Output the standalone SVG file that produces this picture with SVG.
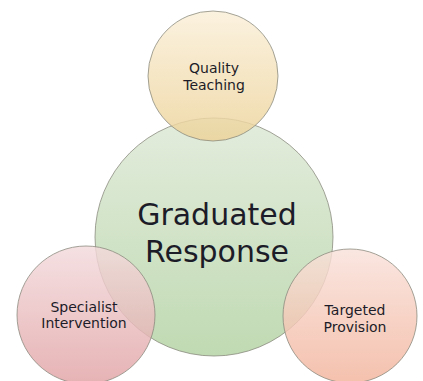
<svg xmlns="http://www.w3.org/2000/svg" width="423" height="381" viewBox="0 0 423 381">
<defs>
<linearGradient id="gGreen" x1="0" y1="0" x2="0" y2="1"><stop offset="0" stop-color="#dde8d5"/><stop offset="1" stop-color="#b2d2a2"/></linearGradient>
<linearGradient id="gTop" x1="0" y1="0" x2="0" y2="1"><stop offset="0" stop-color="#faefd8"/><stop offset="1" stop-color="#ecd298"/></linearGradient>
<linearGradient id="gLeft" x1="0" y1="0" x2="0" y2="1"><stop offset="0" stop-color="#f3dadc"/><stop offset="1" stop-color="#e1a2a4"/></linearGradient>
<linearGradient id="gRight" x1="0" y1="0" x2="0" y2="1"><stop offset="0" stop-color="#f9e1da"/><stop offset="1" stop-color="#f2b39b"/></linearGradient>
</defs>
<style>
.c{stroke:#85857a;stroke-width:1;stroke-opacity:0.75;fill-opacity:0.82}
.t{font-family:"DejaVu Sans","Noto Sans",sans-serif;fill:#1c1c28;text-anchor:middle}
.s{font-size:14px}
.b{font-size:30px}
</style>
<rect width="423" height="381" fill="#ffffff"/>
<g id="graduated-response"><circle class="c" cx="214" cy="237" r="119" fill="url(#gGreen)"/></g>
<g id="quality-teaching"><circle class="c" cx="213" cy="76" r="65" fill="url(#gTop)"/></g>
<g id="specialist-intervention"><circle class="c" cx="86" cy="315" r="69" fill="url(#gLeft)"/></g>
<g id="targeted-provision"><circle class="c" cx="350" cy="316" r="67" fill="url(#gRight)"/></g>
<g id="labels">
<text class="t s" x="214" y="73">Quality</text>
<text class="t s" x="214" y="89.5">Teaching</text>
<text class="t b" x="217" y="225">Graduated</text>
<text class="t b" x="217" y="262">Response</text>
<text class="t s" x="84" y="311.5">Specialist</text>
<text class="t s" x="84" y="328">Intervention</text>
<text class="t s" x="355" y="315">Targeted</text>
<text class="t s" x="355" y="331.5">Provision</text>
</g>
<g id="connectors"></g>
</svg>
